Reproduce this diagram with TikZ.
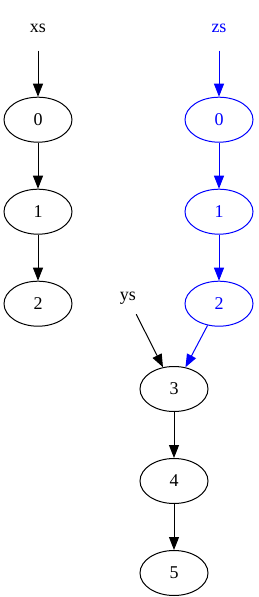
\documentclass[tikz,border=0pt]{standalone}
\usepackage{fontspec}
\setmainfont{Liberation Serif}
\usepackage{xcolor}
\usepackage{tikz}
\usetikzlibrary{shapes.geometric,arrows.meta,positioning}
\definecolor{cBlue}{RGB}{0,0,255}
\tikzset{
  node distance=46pt and 10pt,
  elt/.style  ={ellipse, draw=black, line width=1pt, minimum width=68pt, minimum height=45pt,
                inner sep=0pt, font=\fontsize{18}{20}\selectfont},
  lbl/.style  ={rectangle, minimum height=45pt, inner sep=0pt,
                font=\fontsize{18}{20}\selectfont},
  fl/.style   ={-{Triangle[length=13pt,width=10pt]}, draw=black, line width=1pt},
  blu/.style  ={draw=cBlue, text=cBlue},
  btx/.style  ={text=cBlue},
  bfl/.style  ={fl, draw=cBlue},
}
\begin{document}
\begin{tikzpicture}[x=1pt,y=-1pt]
  \useasboundingbox (0,0) rectangle (258,597);
  % xs list
  \node[lbl] (xs) at (38,28) {xs};
  \node[elt,below=of xs] (x0) {0};
  \node[elt,below=of x0] (x1) {1};
  \node[elt,below=of x1] (x2) {2};
  % zs list
  \node[lbl,btx] (zs) at (219,28) {zs};
  \node[elt,blu,below=of zs] (z0) {0};
  \node[elt,blu,below=of z0] (z1) {1};
  \node[elt,blu,below=of z1] (z2) {2};
  % shared tail
  \node[lbl] (ys) at (128,298) {ys};
  \node[elt] (y3) at (174,389) {3};
  \node[elt,below=of y3] (y4) {4};
  \node[elt,below=of y4] (y5) {5};
  \draw[fl](xs)--(x0);\draw[fl](x0)--(x1);\draw[fl](x1)--(x2);
  \draw[bfl](zs)--(z0);\draw[bfl](z0)--(z1);\draw[bfl](z1)--(z2);
  \draw[bfl](z2)--(y3);
  \draw[fl](ys)--(y3);
  \draw[fl](y3)--(y4);\draw[fl](y4)--(y5);
\end{tikzpicture}
\end{document}
